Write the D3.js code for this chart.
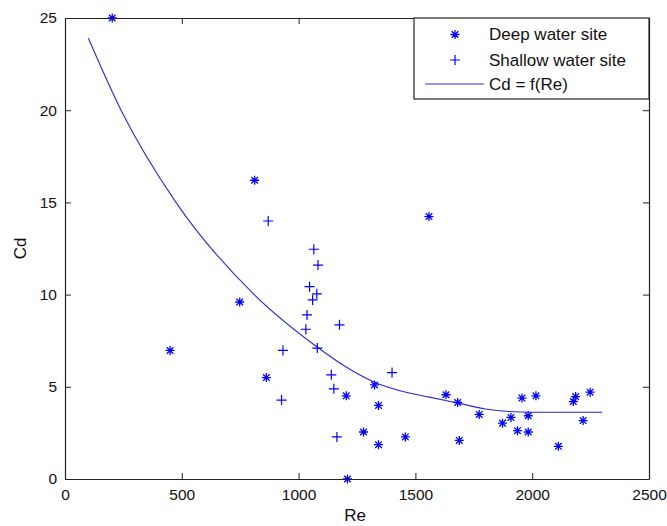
<!DOCTYPE html>
<html><head><meta charset="utf-8">
<script src="https://cdn.jsdelivr.net/npm/d3@7"></script>
<style>
html,body{margin:0;padding:0;background:#fff;}
svg{display:block;font-family:"Liberation Sans",Arial,sans-serif;}
</style>
</head><body>
<svg id="chart" width="667" height="526"></svg>
<script>
// Deep water site (star markers)
const deepRe = [202, 812, 1558, 450, 748, 862, 1204, 1209, 1325, 1342, 1278, 1342, 1457, 1631, 1681, 1688, 1773, 1873, 1909, 1937, 1956, 1983, 1983, 2016, 2112, 2176, 2186, 2218, 2248];
const deepCd = [25.0, 16.2, 14.23, 6.97, 9.6, 5.5, 4.51, 0.0, 5.1, 3.99, 2.55, 1.86, 2.28, 4.57, 4.15, 2.09, 3.5, 3.03, 3.34, 2.62, 4.39, 3.43, 2.55, 4.51, 1.77, 4.2, 4.47, 3.17, 4.71];
// Shallow water site (plus markers)
const shallowRe = [870, 1065, 1083, 1047, 1078, 1060, 1036, 1031, 1175, 1080, 933, 927, 1140, 1151, 1400, 1164];
const shallowCd = [13.99, 12.46, 11.6, 10.43, 10.04, 9.71, 8.9, 8.12, 8.36, 7.1, 6.97, 4.28, 5.65, 4.89, 5.77, 2.28];
// Fitted curve Cd = f(Re)
const fitRe = [100, 240, 475, 810, 1075, 1200, 1325, 1446, 1560, 1688, 1800, 1900, 2000, 2300];
const fitCd = [23.9, 20.0, 15.0, 10.0, 7.2, 6.1, 5.25, 4.75, 4.44, 4.1, 3.8, 3.66, 3.62, 3.62];
// Axes
const xTicks = [0, 500, 1000, 1500, 2000, 2500];
const yTicks = [0, 5, 10, 15, 20, 25];
const legendLabels = ["Deep water site", "Shallow water site", "Cd = f(Re)"];

const svg = d3.select("#chart");
const L = 65, R = 649, T = 18, B = 479;
const x = d3.scaleLinear().domain([0, 2500]).range([L, R]);
const y = d3.scaleLinear().domain([0, 25]).range([B, T]);
const blue = "#0000ff";
const lineBlue = "#2a2ad0";
const axisColor = "#222";

// Curve
const line = d3.line().x(d => x(d[0])).y(d => y(d[1])).curve(d3.curveMonotoneX);
svg.append("path")
  .datum(fitRe.map((r, i) => [r, fitCd[i]]))
  .attr("d", line)
  .attr("fill", "none")
  .attr("stroke", lineBlue)
  .attr("stroke-width", 1.1);

const starPath = "M-4.5,0H4.5M0,-4.5V4.5M-3.3,-3.3L3.3,3.3M-3.3,3.3L3.3,-3.3";
const plusPath = "M-5,0H5M0,-5V5";

svg.append("g").selectAll("path")
  .data(deepRe.map((r, i) => [r, deepCd[i]]))
  .join("path")
  .attr("transform", d => `translate(${x(d[0])},${y(d[1])})`)
  .attr("d", starPath)
  .attr("stroke", blue).attr("stroke-width", 1.3).attr("fill", "none");

svg.append("g").selectAll("path")
  .data(shallowRe.map((r, i) => [r, shallowCd[i]]))
  .join("path")
  .attr("transform", d => `translate(${x(d[0])},${y(d[1])})`)
  .attr("d", plusPath)
  .attr("stroke", blue).attr("stroke-width", 1.2).attr("fill", "none");

// Axes (box with inward ticks)
const tickLen = 6;
const fs = 15.5;
const fmt = d3.format("d");
const xb = svg.append("g").attr("transform", `translate(0,${B})`)
  .call(d3.axisBottom(x).tickValues(xTicks).tickFormat(fmt).tickSizeInner(-tickLen).tickSizeOuter(0));
const xt = svg.append("g").attr("transform", `translate(0,${T})`)
  .call(d3.axisTop(x).tickValues(xTicks).tickSizeInner(-tickLen).tickSizeOuter(0).tickFormat(""));
const yl = svg.append("g").attr("transform", `translate(${L},0)`)
  .call(d3.axisLeft(y).tickValues(yTicks).tickFormat(fmt).tickSizeInner(-tickLen).tickSizeOuter(0).tickPadding(8));
const yr = svg.append("g").attr("transform", `translate(${R},0)`)
  .call(d3.axisRight(y).tickValues(yTicks).tickSizeInner(-tickLen).tickSizeOuter(0).tickFormat(""));
[xb, xt, yl, yr].forEach(g => {
  g.select(".domain").attr("stroke", axisColor).attr("stroke-width", 1.2);
  g.selectAll(".tick line").attr("stroke", axisColor).attr("stroke-width", 1);
  g.selectAll(".tick text").attr("fill", "#111").attr("font-size", fs)
    .attr("font-family", "'Liberation Sans',Arial,sans-serif");
});
xb.selectAll(".tick text").attr("dy", "0.71em").attr("y", 10);

// Axis labels
svg.append("text").attr("x", (L + R) / 2 - 2).attr("y", 521)
  .attr("text-anchor", "middle").attr("font-size", 17).attr("fill", "#111").text("Re");
svg.append("text").attr("transform", `translate(26,${(T + B) / 2}) rotate(-90)`)
  .attr("text-anchor", "middle").attr("font-size", 17).attr("fill", "#111").text("Cd");

// Legend
const lg = svg.append("g");
const lx0 = 414, ly0 = T, lw = R - lx0, lh = 81;
lg.append("rect").attr("x", lx0).attr("y", ly0).attr("width", lw).attr("height", lh)
  .attr("fill", "#fff").attr("stroke", axisColor).attr("stroke-width", 1.2);
const rowY = [34.5, 60, 84];
const symX = 455, textX = 489;
lg.append("path").attr("transform", `translate(${symX},${rowY[0]})`).attr("d", starPath)
  .attr("stroke", blue).attr("stroke-width", 1.3).attr("fill", "none");
lg.append("path").attr("transform", `translate(${symX},${rowY[1]})`).attr("d", plusPath)
  .attr("stroke", blue).attr("stroke-width", 1.2).attr("fill", "none");
lg.append("line").attr("x1", 425).attr("x2", 484).attr("y1", rowY[2]).attr("y2", rowY[2])
  .attr("stroke", lineBlue).attr("stroke-width", 1.1);
lg.selectAll("text.leg").data(legendLabels).join("text").attr("class", "leg")
  .attr("x", textX).attr("y", (d, i) => rowY[i]).attr("dy", "0.35em")
  .attr("font-size", 17).attr("fill", "#111").text(d => d);
</script>
</body></html>
